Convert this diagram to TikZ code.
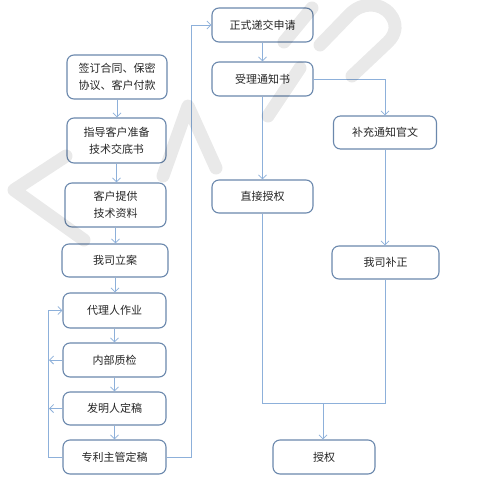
\documentclass[tikz,border=0pt]{standalone}
\usepackage{fontspec}
\setmainfont{Noto Sans CJK SC}
\usetikzlibrary{arrows.meta}
\definecolor{boxc}{HTML}{6B88AD}
\definecolor{linec}{HTML}{8DB0DA}
\begin{document}
\begin{tikzpicture}[x=1pt,y=-1pt,
  box/.style={draw=boxc,line width=1.1pt,rounded corners=7pt,fill=white,align=center,
    font=\fontsize{11}{17}\selectfont,text=black!85,inner sep=0pt},
  conn/.style={draw=linec,line width=0.8pt},
  arr/.style={conn,-{Straight Barb[length=4pt,width=8pt]}},
  wmark/.style={draw=black,opacity=0.085,line width=13pt,line cap=round,line join=round}]
\useasboundingbox[fill=white] (0,0) rectangle (485,493);

% left column
\node[box,minimum width=100pt,minimum height=44pt] (b1) at (117,77) {签订合同、保密\\协议、客户付款};
\node[box,minimum width=99pt,minimum height=45pt] (b2) at (116.5,140.5) {指导客户准备\\技术交底书};
\node[box,minimum width=101pt,minimum height=44pt] (b3) at (115.5,205) {客户提供\\技术资料};
\node[box,minimum width=106pt,minimum height=33pt] (b4) at (115,260.5) {我司立案};
\node[box,minimum width=103pt,minimum height=35pt] (b5) at (114.5,310.5) {代理人作业};
\node[box,minimum width=103pt,minimum height=34pt] (b6) at (114.5,360) {内部质检};
\node[box,minimum width=103pt,minimum height=33pt] (b7) at (114.5,408.5) {发明人定稿};
\node[box,minimum width=103pt,minimum height=34pt] (b8) at (114.5,457) {专利主管定稿};

% right part
\node[box,minimum width=101pt,minimum height=34pt] (r1) at (262.5,25) {正式递交申请};
\node[box,minimum width=101pt,minimum height=34pt] (r2) at (262.5,79) {受理通知书};
\node[box,minimum width=103pt,minimum height=33pt] (r3) at (385,132.5) {补充通知官文};
\node[box,minimum width=101pt,minimum height=33pt] (r4) at (262.5,196.5) {直接授权};
\node[box,minimum width=107pt,minimum height=33pt] (r5) at (385.5,262.5) {我司补正};
\node[box,minimum width=102pt,minimum height=34pt] (r6) at (324,457) {授权};

% left column connectors
\draw[arr] (b1.south) -- (b1.south |- b2.north);
\draw[arr] (b2.south) -- (b2.south |- b3.north);
\draw[arr] (b3.south) -- (b3.south |- b4.north);
\draw[arr] (b4.south) -- (b4.south |- b5.north);
\draw[arr] (b5.south) -- (b5.south |- b6.north);
\draw[arr] (b6.south) -- (b6.south |- b7.north);
\draw[arr] (b7.south) -- (b7.south |- b8.north);

% left feedback loop
\coordinate (fl) at (48,0);
\coordinate (fl2) at (49,0);
\draw[arr] (b8.west) -- (b8.west -| fl) -- (b5.west -| fl) -- (b5.west);
\draw[arr] (b6.west) -- (b6.west -| fl2);
\draw[arr] (b7.west) -- (b7.west -| fl2);

% right feedback to submission
\coordinate (fr) at (191,0);
\draw[arr] (b8.east) -- (b8.east -| fr) -- (r1.west -| fr) -- (r1.west);

% right connectors
\draw[arr] (r1.south) -- (r1.south |- r2.north);
\draw[arr] (r2.east) -| (r3.north);
\draw[arr] (r2.south) -- (r2.south |- r4.north);
\draw[arr] (r3.south) -- (r3.south |- r5.north);
\coordinate (jn) at (323,403);
\draw[conn] (r4.south) -- (r4.south |- jn) -- (r5.south |- jn) -- (r5.south);
\draw[arr] (jn) -- (jn |- r6.north);

% watermark
\draw[wmark] (84,240) -- (14,190) -- (66,156);
\draw[wmark] (163,176) -- (188,106) -- (216,168);
\draw[wmark] (268,116) -- (300,68);
\draw[wmark] (284,42) -- (312,8);
\draw[wmark] (320,45) -- (350,14) .. controls (362,2) and (380,2) .. (390,14)
  .. controls (398,24) and (396,34) .. (388,42) -- (352,76);
\end{tikzpicture}
\end{document}
